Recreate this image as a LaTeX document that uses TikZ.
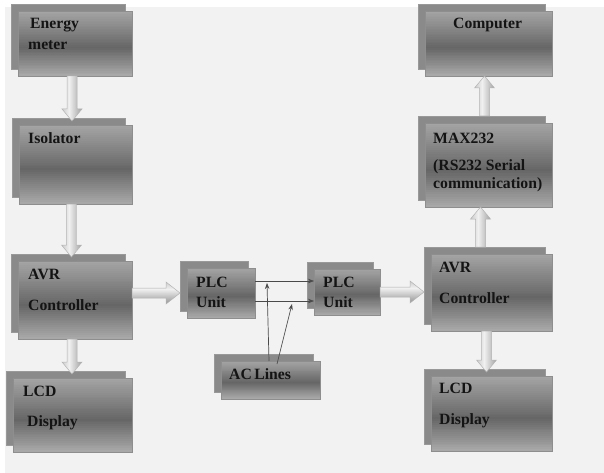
\documentclass[tikz,border=0pt]{standalone}
\usepackage{fontspec}
\setmainfont{Liberation Serif}
\usetikzlibrary{calc,arrows.meta}
\definecolor{bg}{HTML}{F2F2F2}
\definecolor{boxtop}{HTML}{A4A4A4}
\definecolor{boxmid}{HTML}{666666}
\definecolor{boxbot}{HTML}{A8A8A8}
\definecolor{backc}{HTML}{8A8A8A}
\definecolor{edge}{HTML}{8E8E8E}
\definecolor{arl}{HTML}{CDCDCD}
\definecolor{arm}{HTML}{F0F0F0}
\definecolor{arr}{HTML}{A6A6A6}
\definecolor{thinc}{HTML}{4A4A4A}
\newcommand\boxstrips{%
  \foreach \i in {0,...,39}{%
    \ifnum\i<22 \pgfmathtruncatemacro\pp{\i*100/22}\colorlet{gc}{boxmid!\pp!boxtop}%
    \else \pgfmathtruncatemacro\pp{(\i-22)*100/17}\colorlet{gc}{boxbot!\pp!boxmid}\fi
    \fill[gc] ($(path picture bounding box.north west)!{\i/40}!(path picture bounding box.south west)$)
      rectangle ($(path picture bounding box.north east)!{(\i+1.4)/40}!(path picture bounding box.south east)$);
  }}
\newcommand\fatcolor[1]{%
  \ifnum#1<7 \pgfmathtruncatemacro\pq{#1*100/7}\colorlet{fc}{arm!\pq!arl}%
  \else \pgfmathtruncatemacro\pq{(#1-7)*100/12}\colorlet{fc}{arr!\pq!arm}\fi}
\tikzset{
  frontbox/.style={rectangle, anchor=north west, inner sep=0pt, outer sep=0pt,
    draw=edge, line width=0.7pt, fill=boxmid, path picture={\boxstrips}},
  backbox/.style={rectangle, anchor=north west, inner sep=0pt, outer sep=0pt,
    fill=backc, draw=edge!90, line width=0.5pt},
  lbl/.style={anchor=base west, inner sep=0pt, font=\fontsize{15.7}{18}\selectfont\bfseries, text=black!92},
  fatline/.style={draw=arr!85, line width=0.5pt},
  thinarrow/.style={draw=thinc, line width=0.7pt, -{Stealth[length=6pt,width=4.5pt]}}
}
% #1 name, #2 x, #3 y, #4 width, #5 height (front box)
\newcommand\dblbox[5]{%
  \node[backbox, minimum width=#4pt, minimum height=#5pt] (#1-b) at (#2-7,#3-7) {};
  \node[frontbox, minimum width=#4pt, minimum height=#5pt] (#1) at (#2,#3) {};
}
% vertical fat arrow: #1 start, #2 tip (only y of tip used), #3 = +1 for down, -1 for up
\newcommand\fatvert[3]{%
  \begin{scope}
  \clip let \p1=(#1), \p2=(#2) in
    (\x1-5pt,\y1) -- (\x1-5pt,\y2+#3*12pt) -- (\x1-10pt,\y2+#3*12pt) -- (\x1,\y2)
    -- (\x1+10pt,\y2+#3*12pt) -- (\x1+5pt,\y2+#3*12pt) -- (\x1+5pt,\y1) -- cycle;
  \foreach \i in {0,...,19}{\fatcolor{\i}%
    \fill[fc] let \p1=(#1), \p2=(#2) in (\x1-10pt+\i*1pt,\y1) rectangle (\x1-8.7pt+\i*1pt,\y2);}
  \end{scope}
  \draw[fatline] let \p1=(#1), \p2=(#2) in
    (\x1-5pt,\y1) -- (\x1-5pt,\y2+#3*12pt) -- (\x1-10pt,\y2+#3*12pt) -- (\x1,\y2)
    -- (\x1+10pt,\y2+#3*12pt) -- (\x1+5pt,\y2+#3*12pt) -- (\x1+5pt,\y1) -- cycle;}
% horizontal fat arrow to the right: #1 start, #2 tip (only x of tip used)
\newcommand\fatright[2]{%
  \begin{scope}
  \clip let \p1=(#1), \p2=(#2) in
    (\x1,\y1+5pt) -- (\x2-14pt,\y1+5pt) -- (\x2-14pt,\y1+11pt) -- (\x2,\y1)
    -- (\x2-14pt,\y1-11pt) -- (\x2-14pt,\y1-5pt) -- (\x1,\y1-5pt) -- cycle;
  \foreach \i in {0,...,21}{\fatcolor{\i}%
    \fill[fc] let \p1=(#1), \p2=(#2) in (\x1,\y1+11pt-\i*1pt) rectangle (\x2,\y1+9.7pt-\i*1pt);}
  \end{scope}
  \draw[fatline] let \p1=(#1), \p2=(#2) in
    (\x1,\y1+5pt) -- (\x2-14pt,\y1+5pt) -- (\x2-14pt,\y1+11pt) -- (\x2,\y1)
    -- (\x2-14pt,\y1-11pt) -- (\x2-14pt,\y1-5pt) -- (\x1,\y1-5pt) -- cycle;}
\begin{document}
\begin{tikzpicture}[x=1pt,y=-1pt]
\useasboundingbox (0,0) rectangle (604,473);
\fill[white] (0,0) rectangle (604,473);
\fill[bg] (5,7) rectangle (604,473);

% left column
\dblbox{em}{18}{11}{114}{65}
\dblbox{iso}{19}{125}{113}{79}
\dblbox{avr1}{18}{261}{114}{78}
\dblbox{lcd1}{13}{378}{119}{74}
% middle
\dblbox{plc1}{187}{268}{68}{50}
\dblbox{plc2}{314}{269}{66}{46}
\dblbox{ac}{221}{361}{99}{38}
% right column
\dblbox{comp}{425}{11}{127}{65}
\dblbox{max}{425}{123}{127}{84}
\dblbox{avr2}{431}{254}{121}{77}
\dblbox{lcd2}{431}{376}{121}{75}

% labels
\node[lbl] (t-em1) at (30,29) {Energy};
\node[lbl] (t-em2) at (28,50) {meter};
\node[lbl] (t-iso) at (28,144) {Isolator};
\node[lbl] (t-avr1a) at (28,279) {AVR};
\node[lbl] (t-avr1b) at (28,310) {Controller};
\node[lbl] (t-lcd1a) at (23,396) {LCD};
\node[lbl] (t-lcd1b) at (27,426) {Display};
\node[lbl] (t-plc1a) at (196,287) {PLC};
\node[lbl] (t-plc1b) at (196,307) {Unit};
\node[lbl] (t-plc2a) at (323,287) {PLC};
\node[lbl] (t-plc2b) at (323,307) {Unit};
\node[lbl] (t-ac) at (229,379) {AC\hspace{-1.5pt} Lines};
\node[lbl] (t-comp) at (453,29) {Computer};
\node[lbl] (t-max1) at (433,143) {MAX232};
\node[lbl] (t-max2) at (433,170) {(RS232 Serial};
\node[lbl] (t-max3) at (433,188) {communication)};
\node[lbl] (t-avr2a) at (439,272) {AVR};
\node[lbl] (t-avr2b) at (439,303) {Controller};
\node[lbl] (t-lcd2a) at (439,393) {LCD};
\node[lbl] (t-lcd2b) at (439,424) {Display};

% fat arrows
\fatvert{[xshift=-3pt]em.south}{[yshift=-3pt]iso-b.north}{1}
\fatvert{[xshift=-4pt]iso.south}{[yshift=-3pt]avr1-b.north}{1}
\fatvert{[xshift=-3pt]avr1.south}{[yshift=-3pt]lcd1-b.north}{1}
\fatright{[yshift=-32pt]avr1.north east}{[yshift=-31pt]plc1-b.north west}
\fatright{[yshift=-23pt]plc2.north east}{[yshift=-38pt]avr2-b.north west}
\fatvert{[xshift=-4pt]avr2-b.north}{max.south}{-1}
\fatvert{[xshift=3pt]max-b.north}{comp.south}{-1}
\fatvert{[xshift=-5pt]avr2.south}{[yshift=-3pt]lcd2-b.north}{1}

% thin lines between PLC units
\draw[thinarrow] ([yshift=-13pt]plc1.north east) -- ([yshift=-12pt]plc2.north west);
\draw[thinarrow] ([yshift=-33pt]plc1.north east) -- ([yshift=-32pt]plc2.north west);
\coordinate (hit1) at (267,283);
\coordinate (hit2) at (292,304);
\draw[thinarrow] ([xshift=48pt]ac.north west) -- (hit1);
\draw[thinarrow] ([xshift=56pt,yshift=-3pt]ac.north west) -- (hit2);
\end{tikzpicture}
\end{document}
